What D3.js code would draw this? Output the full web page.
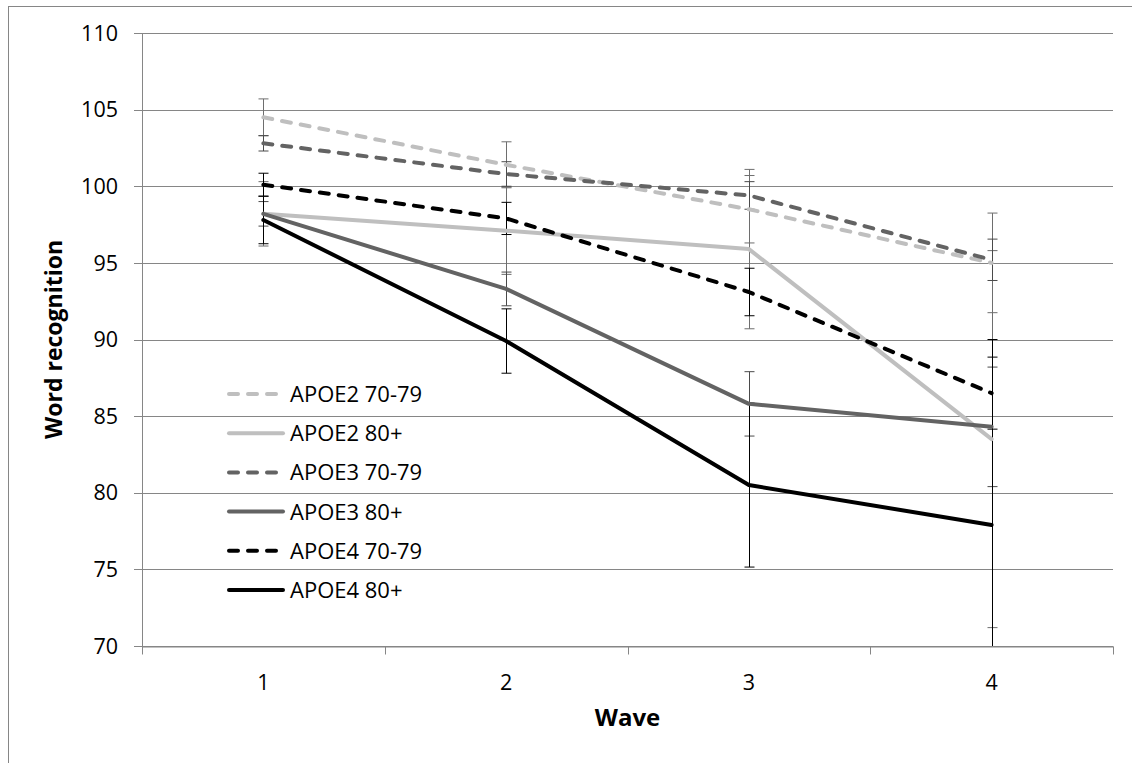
<!DOCTYPE html>
<html>
<head>
<meta charset="utf-8">
<script src="https://d3js.org/d3.v7.min.js"></script>
<style>
  body { margin: 0; background: #fff; }
  svg text { font-family: "Open Sans", "Lato", sans-serif; fill: #000; }
</style>
</head>
<body>
<div id="chart"></div>
<script>
//----------------------------------------------------------------
// données
var waves = ["1", "2", "3", "4"];
var yTicks = [70, 75, 80, 85, 90, 95, 100, 105, 110];
var seriesNames = ["APOE2 70-79", "APOE2 80+", "APOE3 70-79", "APOE3 80+", "APOE4 70-79", "APOE4 80+"];

var apoe2Young = [104.5, 101.4, 98.5, 95.0];
var apoe2Old   = [98.2, 97.1, 95.9, 83.5];
var apoe3Young = [102.8, 100.8, 99.4, 95.2];
var apoe3Old   = [98.2, 93.3, 85.8, 84.3];
var apoe4Young = [100.1, 97.9, 93.1, 86.5];
var apoe4Old   = [97.8, 89.9, 80.5, 77.9];

// demi-largeur des barres d'erreur
var errApoe2Young = [1.2, 1.5, 2.2, 3.25];
var errApoe2Old   = [2.1, 2.85, 5.2, 12.3];
var errApoe3Young = [0.5, 0.8, 0.9, 1.35];
var errApoe3Old   = [0.8, 1.1, 2.1, 3.9];
var errApoe4Young = [0.75, 1.05, 1.55, 2.35];
var errApoe4Old   = [1.55, 2.1, 5.35, 12.1];

var colors = ["#bfbfbf", "#bfbfbf", "#636363", "#636363", "#000000", "#000000"];
var errColors = ["#6e6e6e", "#6e6e6e", "#4a4a4a", "#4a4a4a", "#000000", "#000000"];
var dashed = [true, false, true, false, true, false];

var series = seriesNames.map(function(nom, i){
  return {
    nom: nom,
    valeurs: [apoe2Young, apoe2Old, apoe3Young, apoe3Old, apoe4Young, apoe4Old][i],
    erreurs: [errApoe2Young, errApoe2Old, errApoe3Young, errApoe3Old, errApoe4Young, errApoe4Old][i],
    couleur: colors[i],
    couleurErr: errColors[i],
    tirets: dashed[i]
  };
});

//----------------------------------------------------------------
// svg
var largeur = 1132, hauteur = 763;
var svg = d3.select("#chart")
  .append("svg")
  .attr("width", largeur)
  .attr("height", hauteur);

var gauche = 142, droite = 1113, haut = 33, bas = 646;
var gris = "#868686";

// cadre extérieur
svg.append("rect")
  .attr("x", 8.5).attr("y", 6.5)
  .attr("width", 1200).attr("height", 900)
  .attr("fill", "none")
  .attr("stroke", gris);

var x = d3.scaleBand().domain(waves).range([gauche, droite]);
var y = d3.scaleLinear().domain([70, 110]).range([bas, haut]);

function cx(i){ return x(waves[i]) + x.bandwidth() / 2; }

// quadrillage
svg.append("g")
  .selectAll("line")
  .data(yTicks)
  .enter()
  .append("line")
  .attr("x1", gauche - 8).attr("x2", droite)
  .attr("y1", function(d){ return Math.round(y(d)) + 0.5; })
  .attr("y2", function(d){ return Math.round(y(d)) + 0.5; })
  .attr("stroke", gris);

// axe y
svg.append("line")
  .attr("x1", gauche + 0.5).attr("x2", gauche + 0.5)
  .attr("y1", haut).attr("y2", bas + 0.5)
  .attr("stroke", gris);

svg.append("g")
  .selectAll("text")
  .data(yTicks)
  .enter()
  .append("text")
  .attr("x", 118)
  .attr("y", function(d){ return y(d); })
  .attr("dy", "0.36em")
  .attr("text-anchor", "end")
  .attr("font-size", "21.5px")
  .text(function(d){ return d; });

// axe x
var xAxis = d3.axisBottom(x).tickSize(0).tickPadding(0);
var gx = svg.append("g")
  .attr("transform", "translate(0," + (Math.round(bas) + 0.5) + ")")
  .call(xAxis);
gx.select(".domain").attr("stroke", gris);
gx.selectAll("text")
  .attr("font-size", "21.5px")
  .attr("dy", "0")
  .attr("y", 43)
  .attr("font-family", "'Open Sans', Lato, sans-serif");
gx.selectAll(".sep")
  .data(d3.range(waves.length + 1))
  .enter()
  .append("line")
  .attr("class", "sep")
  .attr("x1", function(d){ return Math.round(gauche + d * x.bandwidth()) + 0.5; })
  .attr("x2", function(d){ return Math.round(gauche + d * x.bandwidth()) + 0.5; })
  .attr("y1", 0).attr("y2", 8)
  .attr("stroke", gris);

// titres des axes
svg.append("text")
  .attr("x", (gauche + droite) / 2)
  .attr("y", 726)
  .attr("text-anchor", "middle")
  .attr("font-size", "24px")
  .attr("font-weight", "bold")
  .text("Wave");

svg.append("text")
  .attr("transform", "translate(62," + ((haut + bas) / 2) + ") rotate(-90)")
  .attr("text-anchor", "middle")
  .attr("font-size", "23px")
  .attr("font-weight", "bold")
  .text("Word recognition");

//----------------------------------------------------------------
// barres d'erreur
svg.append("clipPath").attr("id", "zone")
  .append("rect")
  .attr("x", gauche).attr("y", haut - 10)
  .attr("width", droite - gauche).attr("height", bas - haut + 10);

var gErr = svg.append("g").attr("clip-path", "url(#zone)");
series.forEach(function(s){
  s.valeurs.forEach(function(v, i){
    var haut_ = y(v + s.erreurs[i]), bas_ = y(v - s.erreurs[i]);
    var xc = Math.round(cx(i)) + 0.5;
    gErr.append("line")
      .attr("x1", xc).attr("x2", xc)
      .attr("y1", haut_).attr("y2", bas_)
      .attr("stroke", s.couleurErr).attr("stroke-width", 1);
    [haut_, bas_].forEach(function(yy){
      gErr.append("line")
        .attr("x1", xc - 5).attr("x2", xc + 5)
        .attr("y1", yy).attr("y2", yy)
        .attr("stroke", s.couleurErr).attr("stroke-width", 1);
    });
  });
});

// courbes
var ligne = d3.line()
  .x(function(d, i){ return cx(i); })
  .y(function(d){ return y(d); });

svg.append("g")
  .selectAll("path")
  .data(series)
  .enter()
  .append("path")
  .attr("d", function(d){ return ligne(d.valeurs); })
  .attr("fill", "none")
  .attr("stroke", function(d){ return d.couleur; })
  .attr("stroke-width", 4)
  .attr("stroke-linecap", "round")
  .attr("stroke-linejoin", "round")
  .attr("stroke-dasharray", function(d){ return d.tirets ? "9,10" : null; });

//----------------------------------------------------------------
// légende
var leg = svg.append("g")
  .selectAll("g")
  .data(series)
  .enter()
  .append("g")
  .attr("transform", function(d, i){ return "translate(0," + (394 + i * 39.2) + ")"; });

leg.append("line")
  .attr("x1", 229).attr("x2", 283)
  .attr("y1", 0).attr("y2", 0)
  .attr("stroke", function(d){ return d.couleur; })
  .attr("stroke-width", 4)
  .attr("stroke-linecap", "round")
  .attr("stroke-dasharray", function(d){ return d.tirets ? "9,10" : null; });

leg.append("text")
  .attr("x", 290)
  .attr("y", 0)
  .attr("dy", "0.36em")
  .attr("font-size", "22px")
  .text(function(d){ return d.nom; });
</script>
</body>
</html>
